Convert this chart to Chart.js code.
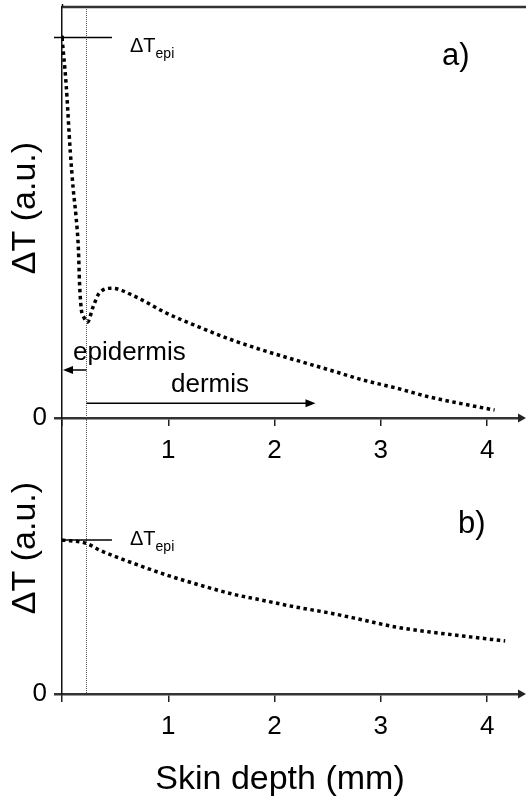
<!DOCTYPE html>
<html><head><meta charset="utf-8">
<script src="https://cdn.jsdelivr.net/npm/chart.js@4"></script>
<style>
html,body{margin:0;padding:0;background:#fff;}
#wrap{position:relative;width:526px;height:800px;overflow:hidden;}
#ca{position:absolute;left:0;top:0;}
#cb{position:absolute;left:0;top:420px;}
</style></head><body>
<div id="wrap"><canvas id="ca" width="526" height="460"></canvas><canvas id="cb" width="526" height="380"></canvas></div>
<script>
// ---- data ----
const depthA  = [0, 0.038, 0.078, 0.106, 0.132, 0.155, 0.165, 0.18, 0.21, 0.24, 0.29, 0.35, 0.47, 0.66, 0.98, 1.29, 1.6, 1.89, 2.2, 2.52, 2.83, 3.14, 3.46, 3.77, 4.07];
const deltaTA = [1.0, 0.88, 0.70, 0.60, 0.53, 0.44, 0.355, 0.29, 0.262, 0.252, 0.29, 0.328, 0.341, 0.323, 0.276, 0.239, 0.205, 0.178, 0.152, 0.126, 0.100, 0.079, 0.055, 0.037, 0.021];
const depthB  = [0, 0.226, 0.351, 0.662, 0.982, 1.293, 1.604, 1.877, 2.197, 2.517, 2.828, 3.138, 3.458, 3.769, 4.17];
const deltaTB = [1.0, 0.979, 0.935, 0.851, 0.773, 0.708, 0.649, 0.610, 0.565, 0.526, 0.481, 0.435, 0.403, 0.377, 0.344];
const xTicks = [0, 1, 2, 3, 4];
const yTicks = [0];
const epidermisThickness = 0.23;   // mm, boundary epidermis/dermis
const deltaTepi = 1.0;             // level of the ΔTepi marker
const xTitle = 'Skin depth (mm)';
const yTitle = 'ΔT (a.u.)';

const FONT = "'Liberation Sans', Arial, Helvetica, sans-serif";

function arrowHead(ctx, tipX, tipY, dir, len, half) {
  ctx.beginPath();
  ctx.moveTo(tipX, tipY);
  ctx.lineTo(tipX - dir * len, tipY - half);
  ctx.lineTo(tipX - dir * len, tipY + half);
  ctx.closePath();
  ctx.fill();
}

function drawDeltaTepi(ctx, x, base) {
  ctx.fillStyle = '#000';
  ctx.textAlign = 'left';
  ctx.textBaseline = 'alphabetic';
  ctx.font = '20px ' + FONT;
  ctx.fillText('ΔT', x, base);
  const w = ctx.measureText('ΔT').width;
  ctx.font = '14px ' + FONT;
  ctx.fillText('epi', x + w, base + 6);
}

function drawYTitle(ctx, cx, cy) {
  ctx.save();
  ctx.translate(cx, cy);
  ctx.rotate(-Math.PI / 2);
  ctx.fillStyle = '#000';
  ctx.textAlign = 'center';
  ctx.textBaseline = 'middle';
  ctx.font = '34px ' + FONT;
  ctx.fillText(yTitle, 0, 0);
  ctx.restore();
}

function makeChart(canvasId, xs, ys, opts) {
  const pts = xs.map((x, i) => ({x: x, y: ys[i]}));
  return new Chart(document.getElementById(canvasId), {
    type: 'line',
    data: { datasets: [{
      data: pts,
      borderColor: '#000',
      borderWidth: 3.5,
      borderDash: [3.5, 3.5],
      borderCapStyle: 'butt',
      cubicInterpolationMode: 'monotone',
      pointRadius: ctx => (opts.startDot && ctx.dataIndex === 0) ? 2.2 : 0,
      pointBackgroundColor: '#000',
      pointBorderWidth: 0,
      fill: false
    }]},
    options: {
      responsive: false,
      animation: false,
      devicePixelRatio: 1,
      layout: { padding: { top: opts.padTop, right: 7, left: 0, bottom: 0 } },
      plugins: { legend: { display: false }, tooltip: { enabled: false } },
      scales: {
        x: {
          type: 'linear', min: 0, max: 4.3,
          afterBuildTicks: s => { s.ticks = xTicks.map(v => ({value: v})); },
          afterFit: s => { s.height = opts.xHeight; s.paddingLeft = 0; s.paddingRight = 0; },
          ticks: { callback: v => v === 0 ? '' : String(v), color: '#000',
                   font: { family: FONT, size: 26 }, padding: 9, maxRotation: 0, autoSkip: false },
          grid: { drawOnChartArea: false, drawTicks: true, tickLength: 8, color: '#222', lineWidth: 1.5 },
          border: { display: true, color: '#333', width: 2.5 }
        },
        y: {
          type: 'linear', min: 0, max: opts.yMax,
          afterBuildTicks: s => { s.ticks = yTicks.map(v => ({value: v})); },
          afterFit: s => { s.width = 62; s.paddingTop = 0; s.paddingBottom = 0; },
          ticks: { color: '#000', font: { family: FONT, size: 26 }, padding: 7 },
          grid: { drawOnChartArea: false, drawTicks: true, tickLength: 8, color: '#333', lineWidth: 2.5 },
          border: { display: true, color: '#111', width: 1.5 }
        }
      }
    },
    plugins: [{
      id: 'decor',
      beforeDatasetsDraw(chart) {
        const ctx = chart.ctx, xs = chart.scales.x, a = chart.chartArea;
        const ex = Math.round(xs.getPixelForValue(epidermisThickness)) + 0.5;
        ctx.save();
        ctx.strokeStyle = '#555';
        ctx.lineWidth = 1;
        ctx.setLineDash([1, 1]);
        ctx.beginPath();
        ctx.moveTo(ex, opts.dotFromTop ? a.top : 0);
        ctx.lineTo(ex, opts.dotFromTop ? a.bottom + 2 : a.bottom);
        ctx.stroke();
        ctx.restore();
      },
      afterDraw(chart) {
        const ctx = chart.ctx, xs = chart.scales.x, ys = chart.scales.y, a = chart.chartArea;
        ctx.save();
        // x axis arrow head
        ctx.fillStyle = '#222';
        arrowHead(ctx, chart.width, a.bottom, 1, 8, 4.5);
        ctx.fillStyle = '#000';
        // ΔTepi marker line
        const yE = ys.getPixelForValue(deltaTepi);
        ctx.strokeStyle = '#000';
        ctx.lineWidth = 1.5;
        ctx.beginPath();
        ctx.moveTo(opts.startDot ? a.left - 8 : a.left, yE);
        ctx.lineTo(xs.getPixelForValue(0.47), yE);
        ctx.stroke();
        drawDeltaTepi(ctx, 130, yE + opts.epiDy);
        drawYTitle(ctx, 26, opts.titleY);
        opts.extra && opts.extra(chart, ctx, xs, ys, a);
        ctx.restore();
      }
    }]
  });
}

makeChart('ca', depthA, deltaTA, {
  padTop: 7, xHeight: 42, yMax: 1.08, startDot: true, dotFromTop: true, epiDy: 15, titleY: 208,
  extra(chart, ctx, xs, ys, a) {
    // top frame line
    ctx.strokeStyle = '#333';
    ctx.lineWidth = 2.5;
    ctx.beginPath();
    ctx.moveTo(a.left, a.top);
    ctx.lineTo(chart.width, a.top);
    ctx.stroke();
    ctx.lineWidth = 1.5;
    ctx.strokeStyle = '#111';
    ctx.beginPath();
    ctx.moveTo(a.left + 0.5, a.top - 3);
    ctx.lineTo(a.left + 0.5, a.top);
    ctx.stroke();
    // panel label
    ctx.fillStyle = '#000';
    ctx.textAlign = 'left';
    ctx.textBaseline = 'alphabetic';
    ctx.font = '31px ' + FONT;
    ctx.fillText('a)', 442, 65);
    // epidermis / dermis arrows
    const ex = xs.getPixelForValue(epidermisThickness);
    const yEpi = ys.getPixelForValue(0.126);
    const yDer = ys.getPixelForValue(0.039);
    ctx.strokeStyle = '#000';
    ctx.lineWidth = 1.5;
    ctx.beginPath();
    ctx.moveTo(ex, yEpi); ctx.lineTo(xs.getPixelForValue(0) + 6, yEpi);
    ctx.moveTo(ex, yDer); ctx.lineTo(xs.getPixelForValue(2.385) - 6, yDer);
    ctx.stroke();
    arrowHead(ctx, xs.getPixelForValue(0) + 1, yEpi, -1, 10, 4);
    arrowHead(ctx, xs.getPixelForValue(2.385), yDer, 1, 10, 4);
    ctx.font = '26px ' + FONT;
    ctx.fillText('epidermis', 73, 360);
    ctx.fillText('dermis', 171, 392);
  }
});

makeChart('cb', depthB, deltaTB, {
  padTop: 0, xHeight: 106, yMax: 1.779, startDot: false, dotFromTop: false, epiDy: 5, titleY: 128,
  extra(chart, ctx, xs, ys, a) {
    ctx.fillStyle = '#000';
    ctx.textAlign = 'left';
    ctx.textBaseline = 'alphabetic';
    ctx.font = '31px ' + FONT;
    ctx.fillText('b)', 458, 113);
    ctx.textAlign = 'center';
    ctx.font = '34px ' + FONT;
    ctx.fillText(xTitle, 280, 369);
  }
});
</script>
</body></html>
